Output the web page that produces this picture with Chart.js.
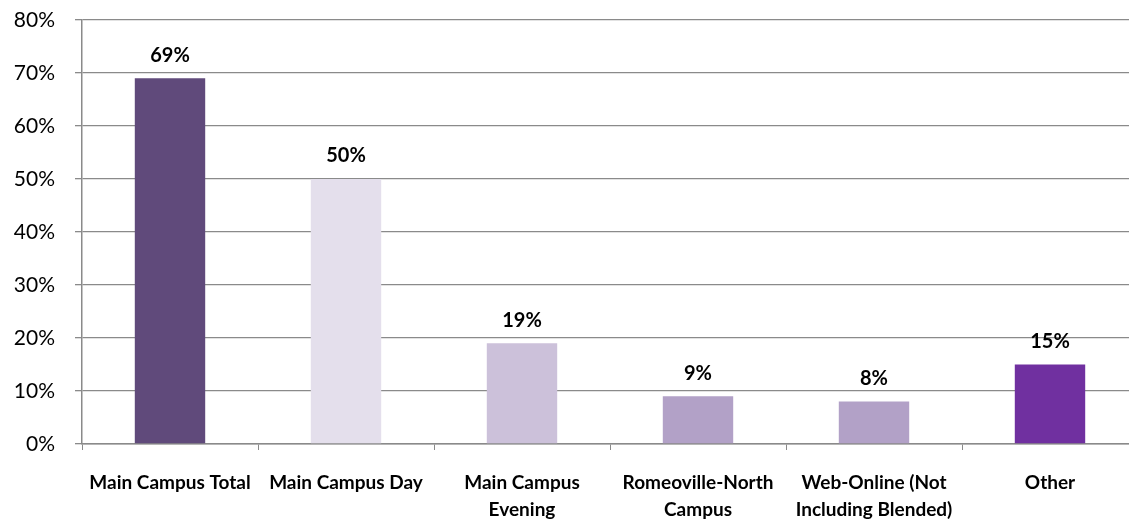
<!DOCTYPE html>
<html>
<head>
<meta charset="utf-8">
<script src="https://cdn.jsdelivr.net/npm/chart.js@4/dist/chart.umd.min.js"></script>
<style>
  html, body { margin: 0; padding: 0; background: #fff; overflow: hidden; }
  #wrap { position: relative; width: 1140px; height: 519px; }
</style>
</head>
<body>
<div id="wrap"><canvas id="chart"></canvas></div>
<script>
// -------------------------------
// Data
// -------------------------------
const categories = [
  "Main Campus Total",
  "Main Campus Day",
  ["Main Campus", "Evening"],
  ["Romeoville-North", "Campus"],
  ["Web-Online (Not", "Including Blended)"],
  "Other",
];
const percentValues = [69, 50, 19, 9, 8, 15];
const barColors = ["#604a7b", "#e4dfec", "#ccc1da", "#b2a1c7", "#b2a1c7", "#7030a0"];
const yTicks = [0, 10, 20, 30, 40, 50, 60, 70, 80];

const FONT = "Lato, 'Open Sans', sans-serif";
const GRID = "#8a8a8a";

// value labels above each bar
const valueLabels = {
  id: "valueLabels",
  afterDatasetsDraw(chart) {
    const ctx = chart.ctx;
    const meta = chart.getDatasetMeta(0);
    ctx.save();
    ctx.font = "bold 20px " + FONT;
    ctx.fillStyle = "#000";
    ctx.textAlign = "center";
    ctx.textBaseline = "middle";
    meta.data.forEach((bar, i) => {
      ctx.fillText(percentValues[i] + "%", bar.x, bar.y - 23);
    });
    ctx.restore();
  },
};

new Chart(document.getElementById("chart"), {
  type: "bar",
  data: {
    labels: categories,
    datasets: [
      {
        data: percentValues,
        backgroundColor: barColors,
        barPercentage: 0.4,
        categoryPercentage: 1,
      },
    ],
  },
  options: {
    responsive: true,
    maintainAspectRatio: false,
    animation: false,
    layout: { padding: { top: 20, right: 2, left: 0, bottom: 0 } },
    plugins: { legend: { display: false }, tooltip: { enabled: false } },
    scales: {
      x: {
        grid: { drawOnChartArea: false, drawTicks: true, tickLength: 6, color: GRID, offset: true },
        border: { color: GRID, width: 1.5 },
        ticks: {
          color: "#000",
          font: { family: FONT, size: 19, weight: "bold", lineHeight: 1.45 },
          maxRotation: 0,
          autoSkip: false,
          padding: 19,
        },
        afterFit(scale) { scale.height = 75; },
      },
      y: {
        min: 0,
        max: 80,
        afterBuildTicks(scale) { scale.ticks = yTicks.map((v) => ({ value: v })); },
        grid: { color: GRID, lineWidth: 1.3, tickLength: 7 },
        border: { color: GRID, width: 1.5 },
        ticks: {
          color: "#000",
          font: { family: FONT, size: 21 },
          padding: 20,
          callback: (v) => v + "%",
        },
        afterFit(scale) {
          scale.width = 82;
          scale.paddingTop = 0;
          scale.paddingBottom = 0;
        },
      },
    },
  },
  plugins: [valueLabels],
});
</script>
</body>
</html>
